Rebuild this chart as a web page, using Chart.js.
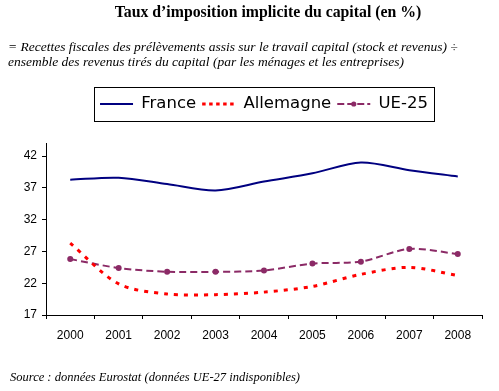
<!DOCTYPE html>
<html><head><meta charset="utf-8">
<script src="https://cdn.jsdelivr.net/npm/chart.js@4"></script>
<style>
html,body{margin:0;padding:0;background:#fff;}
#wrap{position:relative;width:499px;height:391px;overflow:hidden;background:#fff;}
canvas{position:absolute;left:0;top:0;}
.t{position:absolute;font-family:"Liberation Serif","Times New Roman",serif;color:#000;white-space:nowrap;}
#title{top:3px;left:0;width:536px;text-align:center;font-weight:bold;font-size:15.8px;}
#sub{top:40px;left:8px;font-style:italic;font-size:13.5px;line-height:14.5px;}
#src{top:370px;left:10px;font-style:italic;font-size:12.5px;}
</style></head>
<body>
<div id="wrap">
<canvas id="c" width="499" height="391"></canvas>
<div class="t" id="title">Taux d’imposition implicite du capital (en %)</div>
<div class="t" id="sub">= Recettes fiscales des prélèvements assis sur le travail capital (stock et revenus) ÷<br>ensemble des revenus tirés du capital (par les ménages et les entreprises)</div>
<div class="t" id="src">Source : données Eurostat (données UE-27 indisponibles)</div>
</div>
<script>
const years = ['2000','2001','2002','2003','2004','2005','2006','2007','2008'];
const france = [38.3, 38.6, 37.6, 36.6, 38.0, 39.3, 41.0, 39.8, 38.8];
const allemagne = [28.3, 21.9, 20.3, 20.2, 20.6, 21.5, 23.4, 24.5, 23.2];
const ue25 = [25.8, 24.4, 23.8, 23.8, 24.0, 25.1, 25.4, 27.4, 26.6];
const yTicks = [17, 22, 27, 32, 37, 42];
const seriesNames = ['France', 'Allemagne', 'UE-25'];

const COL_FR = '#000080', COL_DE = '#FF0000', COL_UE = '#8B2A66';
const legendDash = [[], [3.5, 3.5], [7, 3]];
const LEG_FONT = 16.5, LEG_PAD = 6, LEG_EXTRA = 21.2, LEG_BOXW = 33;
const tickFont = {family: '"Liberation Sans Narrow","Liberation Sans",sans-serif', size: 12};

const legendPlugin = {
  id: 'legendExtras',
  beforeLayout(chart) {
    const lg = chart.legend;
    if (lg && !lg._patched) {
      const orig = lg.fit;
      lg.fit = function() { orig.call(this); this.height += LEG_EXTRA; };
      lg._patched = true;
    }
  },
  afterDraw(chart) {
    const lg = chart.legend, hb = lg.legendHitBoxes;
    if (!hb || !hb.length) return;
    const ctx = chart.ctx;
    const first = hb[0], last = hb[hb.length - 1];
    const cy = first.top + LEG_FONT / 2;
    const left = Math.round(first.left - 6) + 0.5;
    const right = Math.round(last.left + last.width + 6) + 0.5;
    const top = Math.round(cy - 17) + 0.5;
    ctx.save();
    ctx.strokeStyle = '#000'; ctx.lineWidth = 1; ctx.setLineDash([]);
    ctx.strokeRect(left, top, right - left, 34);
    const m = hb[2];
    ctx.fillStyle = COL_UE;
    ctx.beginPath();
    ctx.arc(m.left + LEG_BOXW / 2, m.top + LEG_FONT / 2, 2.6, 0, Math.PI * 2);
    ctx.fill();
    ctx.restore();
  }
};

new Chart(document.getElementById('c'), {
  type: 'line',
  data: {
    labels: years,
    datasets: [
      {label: seriesNames[0], data: france, borderColor: COL_FR, backgroundColor: COL_FR, borderWidth: 2, pointRadius: 0, tension: 0.3, fill: false},
      {label: seriesNames[1], data: allemagne, borderColor: COL_DE, backgroundColor: COL_DE, borderWidth: 3, borderDash: [4, 6], pointRadius: 0, tension: 0.3, fill: false},
      {label: seriesNames[2], data: ue25, borderColor: COL_UE, backgroundColor: COL_UE, borderWidth: 2, borderDash: [7, 4], pointRadius: 3, pointBorderWidth: 0, pointBackgroundColor: COL_UE, tension: 0.3, fill: false}
    ]
  },
  options: {
    responsive: false,
    animation: false,
    devicePixelRatio: 1,
    layout: {padding: {top: 89.75, right: 17, left: 0, bottom: 0}},
    plugins: {
      tooltip: {enabled: false},
      title: {display: false},
      legend: {
        display: true,
        position: 'top',
        fullSize: false,
        labels: {
          usePointStyle: true,
          pointStyleWidth: LEG_BOXW,
          boxWidth: LEG_BOXW,
          padding: LEG_PAD,
          color: '#000',
          font: {family: '"DejaVu Sans",sans-serif', size: LEG_FONT},
          generateLabels(chart) {
            const items = Chart.defaults.plugins.legend.labels.generateLabels(chart);
            items.forEach((it, i) => {
              const ds = chart.data.datasets[i];
              it.pointStyle = 'line';
              it.lineDash = legendDash[i];
              it.lineCap = 'butt';
              it.lineWidth = ds.borderWidth;
              it.strokeStyle = ds.borderColor;
            });
            return items;
          }
        }
      }
    },
    scales: {
      x: {
        type: 'category',
        offset: true,
        grid: {offset: true, drawOnChartArea: false, drawTicks: true, tickLength: 4, color: '#000'},
        border: {display: true, color: '#000', width: 1},
        ticks: {color: '#000', font: tickFont, padding: 9, maxRotation: 0, autoSkip: false},
        afterFit(s) { s.height = 76; }
      },
      y: {
        min: 17, max: 44,
        afterBuildTicks(s) { s.ticks = yTicks.map(v => ({value: v})); },
        grid: {drawOnChartArea: false, drawTicks: true, tickLength: 4, color: '#000'},
        border: {display: true, color: '#000', width: 1},
        ticks: {color: '#000', font: tickFont, padding: 5},
        afterFit(s) { s.width = 46; }
      }
    }
  },
  plugins: [legendPlugin]
});
</script>
</body></html>
